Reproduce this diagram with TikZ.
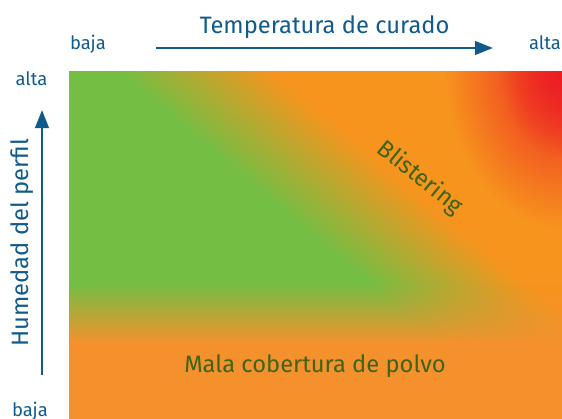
\documentclass[tikz,border=0pt]{standalone}
\usepackage{fontspec}
\setmainfont{Fira Sans}
\usetikzlibrary{arrows.meta,fadings}

\definecolor{leafgreen}{RGB}{116,190,68}
\definecolor{warmorange}{RGB}{247,148,30}
\definecolor{baseorange}{RGB}{245,145,45}
\definecolor{hotred}{RGB}{237,30,36}
\definecolor{axisblue}{RGB}{16,90,140}
\definecolor{labelgreen}{RGB}{62,100,22}

\tikzfading[name=bandfade, top color=transparent!100, bottom color=transparent!0]
\tikzfading[name=glowfade, inner color=transparent!0, outer color=transparent!100]

\begin{document}
\begin{tikzpicture}[
  axistext/.style={text=axisblue, font=\fontsize{13.5}{16}\selectfont, inner sep=0pt, anchor=base},
  endtext/.style={text=axisblue, font=\fontsize{10.5}{12}\selectfont, inner sep=0pt, anchor=base},
  zonetext/.style={text=labelgreen, font=\fontsize{13.5}{16}\selectfont, inner sep=0pt},
  axisarrow/.style={draw=axisblue, line width=1.5pt, -{Triangle[length=3.6mm,width=2.7mm]}}]
\useasboundingbox (0,0) rectangle (11.24,8.36);
% colour field
\begin{scope}
\clip (1.38,0) rectangle (11.24,6.94);
\fill[leafgreen] (1.38,0) rectangle (11.24,6.94);
\begin{scope}[transform canvas={shift={(6.3,4.9)},rotate=50}]
\shade[left color=leafgreen, right color=warmorange] (-1,-12) rectangle (1,12);
\fill[warmorange] (1,-12) rectangle (14,12);
\end{scope}
\fill[hotred, path fading=glowfade] (11.3,7.0) ellipse (2.4 and 3.2);
\fill[hotred, path fading=glowfade] (11.3,7.0) ellipse (1.3 and 1.8);
\fill[baseorange, path fading=bandfade] (1.38,1.5) rectangle (11.24,2.7);
\fill[baseorange] (1.38,-0.1) rectangle (11.34,1.52);
\end{scope}
% axes
\node[axistext] (tempTitle) at (6.49,7.70) {Temperatura de curado};
\node[endtext] (tempLow) at (1.76,7.38) {baja};
\node[endtext] (tempHigh) at (10.90,7.38) {alta};
\coordinate (tempStart) at (3.12,7.40);
\coordinate (tempEnd) at (9.86,7.40);
\draw[axisarrow] (tempStart) -- (tempEnd);
\node[axistext, rotate=90] (humTitle) at (0.56,3.51) {Humedad del perfil};
\node[endtext] (humHigh) at (0.63,6.66) {alta};
\node[endtext] (humLow) at (0.60,0.04) {baja};
\coordinate (humStart) at (0.84,0.86);
\coordinate (humEnd) at (0.84,6.16);
\draw[axisarrow] (humStart) -- (humEnd);
% zones
\node[zonetext, rotate=-39] (blister) at (8.40,4.80) {Blistering};
\node[zonetext, anchor=base] (poorCover) at (6.30,0.92) {Mala cobertura de polvo};
\end{tikzpicture}
\end{document}
